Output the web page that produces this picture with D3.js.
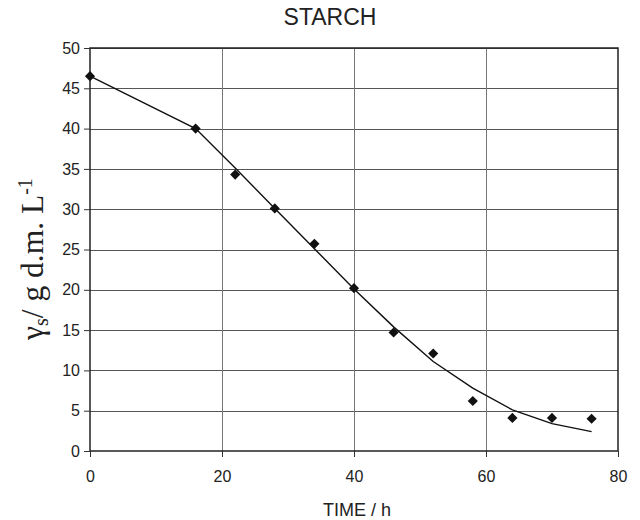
<!DOCTYPE html>
<html>
<head>
  <meta charset="utf-8">
  <title>Starch</title>
  <script src="https://cdnjs.cloudflare.com/ajax/libs/d3/7.8.5/d3.min.js"></script>
  <style>
    html, body { margin: 0; padding: 0; background: #fff; }
    text { font-family: "Liberation Sans", Arial, sans-serif; fill: #222; }
  </style>
</head>
<body>
  <svg id="chart" width="640" height="520"></svg>
  <script>
    // measured points
    let timeObs = [0, 16, 22, 28, 34, 40, 46, 52, 58, 64, 70, 76]
    let starchObs = [46.5, 40, 34.3, 30.1, 25.7, 20.2, 14.7, 12.1, 6.2, 4.1, 4.1, 4.0]
    // model curve
    let timeFit = [0, 16, 22, 28, 34, 40, 46, 52, 58, 64, 70, 76]
    let starchFit = [46.5, 40, 35.1, 30.1, 25.1, 20.1, 15.4, 11.1, 7.8, 5.1, 3.4, 2.4]
    let xTicks = [0, 20, 40, 60, 80]
    let yTicks = [0, 5, 10, 15, 20, 25, 30, 35, 40, 45, 50]

    let svg = d3.select('#chart')
    let mLeft = 90, mRight = 618, mTop = 48, mBottom = 451

    let x = d3.scaleLinear().domain([0, 80]).range([mLeft, mRight])
    let y = d3.scaleLinear().domain([0, 50]).range([mBottom, mTop])

    // grid
    svg.append('g').selectAll('line').data(yTicks.slice(1)).join('line')
      .attr('x1', mLeft).attr('x2', mRight)
      .attr('y1', d => Math.round(y(d)) + 0.5).attr('y2', d => Math.round(y(d)) + 0.5)
      .attr('stroke', '#555').attr('stroke-width', 1)
    svg.append('g').selectAll('line').data(xTicks.slice(1, -1)).join('line')
      .attr('y1', mTop).attr('y2', mBottom)
      .attr('x1', d => Math.round(x(d)) + 0.5).attr('x2', d => Math.round(x(d)) + 0.5)
      .attr('stroke', '#777').attr('stroke-width', 1)

    // frame
    svg.append('rect')
      .attr('x', mLeft).attr('y', mTop).attr('width', mRight - mLeft).attr('height', mBottom - mTop)
      .attr('fill', 'none').attr('stroke', '#222').attr('stroke-width', 1.5)

    // axes
    let xAxis = svg.append('g').attr('transform', `translate(0,${mBottom})`)
      .call(d3.axisBottom(x).tickValues(xTicks).tickSize(6).tickPadding(14))
    let yAxis = svg.append('g').attr('transform', `translate(${mLeft},0)`)
      .call(d3.axisLeft(y).tickValues(yTicks).tickSize(6).tickPadding(4))
    ;[xAxis, yAxis].forEach(g => {
      g.select('.domain').remove()
      g.selectAll('.tick line').attr('stroke', '#333')
      g.selectAll('.tick text').attr('font-size', 16).attr('font-family', '"Liberation Sans", Arial, sans-serif').attr('fill', '#222')
    })

    // model line
    let line = d3.line().x(d => x(d[0])).y(d => y(d[1]))
    svg.append('path')
      .datum(timeFit.map((t, i) => [t, starchFit[i]]))
      .attr('d', line)
      .attr('fill', 'none').attr('stroke', '#111').attr('stroke-width', 1.4)

    // diamonds
    let diamond = d3.symbol().type(d3.symbolDiamond2).size(66)
    svg.append('g').selectAll('path').data(timeObs.map((t, i) => [t, starchObs[i]])).join('path')
      .attr('transform', d => `translate(${x(d[0])},${y(d[1])})`)
      .attr('d', diamond)
      .attr('fill', '#111')

    // titles
    svg.append('text').attr('x', 330).attr('y', 25).attr('text-anchor', 'middle')
      .attr('font-size', 23).text('STARCH')
    svg.append('text').attr('x', 357).attr('y', 516).attr('text-anchor', 'middle')
      .attr('font-size', 18).text('TIME / h')

    let yl = svg.append('text')
      .attr('transform', 'translate(43,259) rotate(-90)')
      .attr('text-anchor', 'middle')
      .style('font-family', '"Liberation Serif", "Times New Roman", serif')
      .attr('font-size', 31.5)
    yl.append('tspan').text('γ')
    yl.append('tspan').attr('font-size', 20).attr('dy', 5).text('s')
    yl.append('tspan').attr('dy', -5).text('/ g d.m. L')
    yl.append('tspan').attr('font-size', 20).attr('dy', -11).text('-1')
  </script>
</body>
</html>
